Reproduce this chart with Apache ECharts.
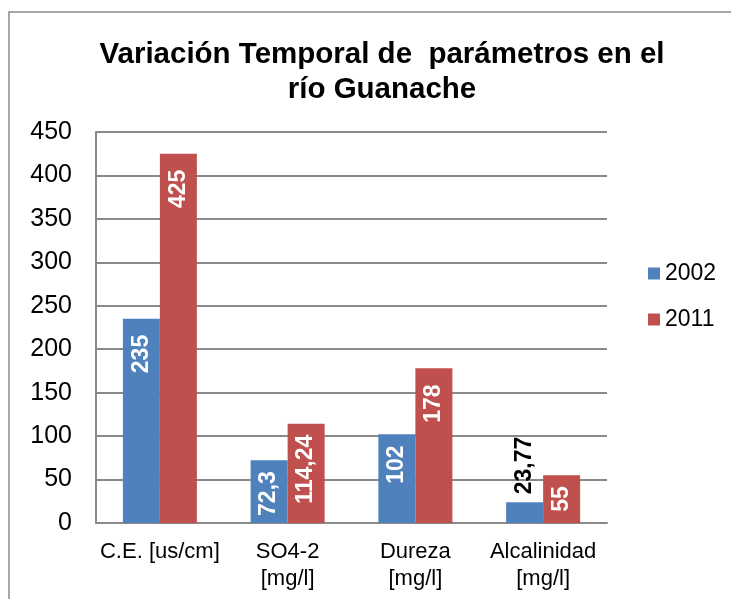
<!DOCTYPE html>
<html>
<head>
<meta charset="utf-8">
<script src="https://cdn.jsdelivr.net/npm/echarts@6/dist/echarts.min.js"></script>
<style>
html,body{margin:0;padding:0;background:#fff;}
#main{width:731px;height:599px;}
</style>
</head>
<body>
<div id="main"></div>
<script>
var titleText = 'Variación Temporal de  parámetros en el\nrío Guanache';
var categories = ['C.E. [us/cm]', 'SO4-2\n[mg/l]', 'Dureza\n[mg/l]', 'Alcalinidad\n[mg/l]'];
var seriesNames = ['2002', '2011'];
var values2002 = [235, 72.3, 102, 23.77];
var values2011 = [425, 114.24, 178, 55];
var yTicks = [0, 50, 100, 150, 200, 250, 300, 350, 400, 450];

var FONT = '"Liberation Sans", Arial, sans-serif';

function fmt(v) { return String(v).replace('.', ','); }

function buildData(vals) {
  return vals.map(function (v) {
    if (v < 40) {
      return {
        value: v,
        label: { position: 'top', align: 'left', color: '#000', distance: 8 }
      };
    }
    if (v < 130) {
      return { value: v, label: { distance: 11 } };
    }
    return v;
  });
}

function makeSeries(name, vals, color) {
  return {
    name: name,
    type: 'bar',
    barWidth: 37,
    barGap: '0%',
    itemStyle: { color: color },
    label: {
      show: true,
      position: 'insideTop',
      rotate: 90,
      align: 'right',
      verticalAlign: 'middle',
      distance: 16,
      color: '#fff',
      fontFamily: FONT,
      fontWeight: 'bold',
      fontSize: 23,
      formatter: function (p) { return fmt(p.value); }
    },
    data: buildData(vals)
  };
}

var chart = echarts.init(document.getElementById('main'), null, { renderer: 'canvas' });
chart.setOption({
  animation: false,
  backgroundColor: '#fff',
  title: {
    text: titleText,
    left: 377,
    top: 32,
    textAlign: 'center',
    textStyle: {
      fontFamily: FONT,
      fontWeight: 'bold',
      fontSize: 29.5,
      lineHeight: 35,
      color: '#000'
    }
  },
  graphic: [{
    type: 'rect',
    shape: { x: 9, y: 12, width: 740, height: 620 },
    style: { fill: null, stroke: '#8a8a8a', lineWidth: 1.5 },
    silent: true,
    z: -10
  }],
  legend: {
    orient: 'vertical',
    left: 643,
    top: 257,
    itemWidth: 12,
    itemHeight: 12,
    itemGap: 23,
    icon: 'rect',
    data: seriesNames,
    textStyle: { fontFamily: FONT, fontSize: 23, color: '#000' }
  },
  grid: { left: 96, right: 124, top: 132, bottom: 76, containLabel: false },
  xAxis: {
    type: 'category',
    data: categories,
    axisLine: { lineStyle: { color: '#8a8a8a', width: 2 } },
    axisTick: { show: false },
    axisLabel: {
      fontFamily: FONT,
      fontSize: 22,
      lineHeight: 27,
      color: '#000',
      margin: 15,
      interval: 0
    }
  },
  yAxis: {
    type: 'value',
    min: yTicks[0],
    max: yTicks[yTicks.length - 1],
    interval: yTicks[1] - yTicks[0],
    axisLine: { show: true, lineStyle: { color: '#8a8a8a', width: 2 } },
    axisTick: { show: false },
    splitLine: { lineStyle: { color: '#8a8a8a', width: 2 } },
    axisLabel: {
      fontFamily: FONT,
      fontSize: 25,
      color: '#000',
      margin: 24
    }
  },
  series: [
    makeSeries(seriesNames[0], values2002, '#4F81BD'),
    makeSeries(seriesNames[1], values2011, '#C0504D')
  ]
});
</script>
</body>
</html>
